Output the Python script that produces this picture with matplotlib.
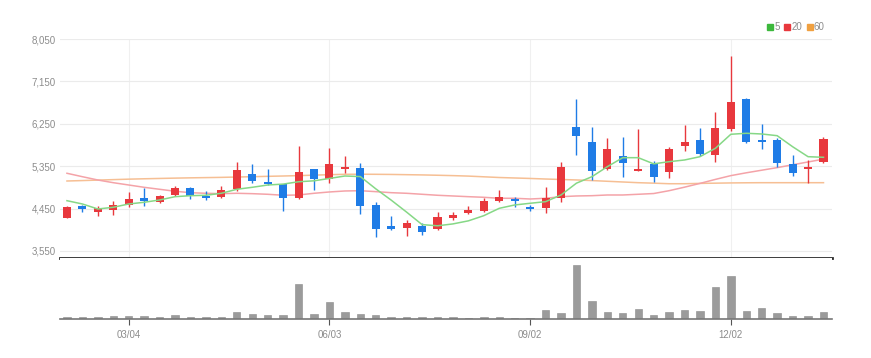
import pandas as pd
import numpy as np
import matplotlib
matplotlib.use('Agg')
import matplotlib.pyplot as plt
from matplotlib.lines import Line2D

# weekly candles, 2024-02-05 .. 2025-01-13
dates = pd.date_range('2024-02-05', periods=50, freq='W-MON')

opens = [4257, 4499, 4384, 4420, 4520, 4669, 4597, 4739, 4881, 4724,
         4690, 4860, 5185, 5015, 4966, 4669, 5284, 5079, 5284, 5306,
         4527, 4074, 4045, 4081, 4011, 4251, 4363, 4406, 4618, 4654,
         4478, 4456, 4669, 6189, 5870, 5291, 5573, 5255, 5397, 5234,
         5779, 5907, 5588, 6140, 6777, 5907, 5907, 5391, 5284, 5446]
highs = [4495, 4533, 4505, 4605, 4803, 4881, 4739, 4936, 4902, 4824,
         4930, 5433, 5397, 5284, 4980, 5779, 5290, 5730, 5567, 5425,
         4597, 4293, 4208, 4138, 4384, 4384, 4505, 4669, 4845, 4690,
         4527, 4902, 5446, 6771, 6176, 5943, 5977, 6134, 5467, 5764,
         6225, 6155, 6507, 7690, 6790, 6246, 5943, 5588, 5482, 5964]
lows = [4255, 4384, 4299, 4314, 4478, 4505, 4575, 4718, 4654, 4633,
        4669, 4830, 4987, 4951, 4406, 4660, 4845, 4987, 5200, 4335,
        3854, 3996, 3868, 3890, 3996, 4208, 4335, 4384, 4597, 4478,
        4406, 4350, 4597, 5588, 5057, 5270, 5127, 5250, 5021, 5106,
        5673, 5573, 5446, 6104, 5850, 5716, 5340, 5149, 4987, 5412]
closes = [4490, 4442, 4469, 4520, 4660, 4605, 4718, 4881, 4724, 4669,
          4845, 5270, 5042, 4966, 4669, 5234, 5072, 5397, 5327, 4505,
          4017, 4011, 4138, 3960, 4265, 4314, 4420, 4612, 4690, 4612,
          4435, 4669, 5327, 5998, 5248, 5716, 5425, 5297, 5127, 5716,
          5858, 5603, 6155, 6720, 5858, 5858, 5412, 5200, 5340, 5928]

ma5 = [4618, 4548, 4442, 4478, 4548, 4584, 4633, 4703, 4724, 4733,
       4775, 4860, 4902, 4951, 4970, 5020, 5040, 5090, 5142, 5130,
       4870, 4630, 4375, 4110, 4085, 4125, 4190, 4300, 4456, 4527,
       4563, 4597, 4739, 4990, 5127, 5340, 5531, 5531, 5400, 5446,
       5482, 5552, 5730, 6028, 6049, 6034, 5998, 5764, 5552, 5539]
ma20 = [5200, 5127, 5057, 5000, 4951, 4902, 4860, 4818, 4788, 4775,
        4767, 4775, 4767, 4754, 4733, 4739, 4775, 4803, 4824, 4830,
        4810, 4788, 4775, 4754, 4733, 4718, 4703, 4690, 4669, 4669,
        4654, 4669, 4703, 4718, 4724, 4739, 4739, 4754, 4770, 4830,
        4905, 4985, 5070, 5150, 5210, 5265, 5320, 5380, 5440, 5500]
ma60 = [5036, 5045, 5055, 5065, 5075, 5083, 5090, 5097, 5103, 5108,
        5113, 5120, 5127, 5135, 5142, 5150, 5160, 5170, 5178, 5180,
        5178, 5175, 5170, 5165, 5158, 5150, 5140, 5125, 5110, 5100,
        5090, 5078, 5068, 5058, 5045, 5030, 5015, 5000, 4990, 4978,
        4978, 4985, 4990, 4995, 4998, 5000, 5000, 5000, 5000, 5000]

# volume (thousand shares)
volume = [40, 40, 40, 70, 70, 70, 40, 90, 40, 40,
          40, 200, 130, 90, 90, 1030, 130, 500, 180, 130,
          90, 40, 40, 40, 40, 50, 30, 50, 50, 30,
          30, 250, 150, 1580, 510, 190, 160, 290, 110, 190,
          250, 220, 930, 1280, 220, 310, 160, 60, 60, 190]

tick_labels = ['03/04', '06/03', '09/02', '12/02']

up_color = '#e8383d'
down_color = '#1f7ce6'
gray = '#8c8c8c'
font = ['Liberation Sans', 'DejaVu Sans']

fig = plt.figure(figsize=(8.71, 3.58), dpi=100)
ax = fig.add_axes([0.0689, 0.2793, 0.8863, 0.6117])
axv = fig.add_axes([0.0689, 0.1103, 0.8863, 0.169], sharex=ax)

x = np.arange(len(dates))
o = np.array(opens)
c = np.array(closes)
colors = [up_color if cc >= oo else down_color for oo, cc in zip(o, c)]

# candles
ax.vlines(x, lows, highs, colors=colors, linewidth=1, zorder=3)
body_bottom = np.minimum(o, c)
body_height = np.maximum(np.abs(c - o), 30)
ax.bar(x, body_height, bottom=body_bottom, width=0.52, color=colors, zorder=4)

# moving averages
ax.plot(x, ma60, color='#f6bf94', linewidth=1.1, zorder=2)
ax.plot(x, ma20, color='#f4a3a8', linewidth=1.1, zorder=2)
ax.plot(x, ma5, color='#86d886', linewidth=1.1, zorder=5)

ax.set_xlim(-0.45, 49.55)
ax.set_ylim(3401, 8050)
yt = [3550, 4450, 5350, 6250, 7150, 8050]
ax.set_yticks(yt)
ax.set_yticklabels([f'{v:,}' for v in yt], color=gray, fontsize=7, family=font)
ax.tick_params(axis='y', length=0, pad=3)
ax.tick_params(axis='x', length=0, labelbottom=False)
ax.grid(axis='y', color='#ebebeb', linewidth=0.8)
ax.grid(axis='x', color='#f0f0f0', linewidth=0.8)
ax.set_axisbelow(True)
for s in ['top', 'left', 'right']:
    ax.spines[s].set_visible(False)
ax.spines['bottom'].set_color('#2b2b2b')
ax.spines['bottom'].set_linewidth(2)

tick_pos = [i for i, d in enumerate(dates) if d.strftime('%m/%d') in tick_labels]
ax.set_xticks(tick_pos)

# volume
axv.bar(x, volume, width=0.48, color='#9b9b9b', edgecolor='#8a8a8a', linewidth=0.4)
axv.set_ylim(0, max(volume) * 1.14)
axv.set_yticks([])
for s in ['top', 'left', 'right']:
    axv.spines[s].set_visible(False)
axv.spines['bottom'].set_color('#777777')
axv.spines['bottom'].set_linewidth(1.2)
axv.set_xticks(tick_pos)
axv.set_xticklabels(tick_labels, color=gray, fontsize=7, family=font)
axv.tick_params(axis='x', length=4, color='#555555', pad=4)

handles = [Line2D([], [], marker='s', ls='', color=col, markersize=4)
           for col in ['#3cb83c', '#e8383d', '#f0a040']]
fig.legend(handles, ['5', '20', '60'], ncol=3, loc='upper right',
           bbox_to_anchor=(0.957, 0.962), frameon=False, handletextpad=0.0,
           columnspacing=0.3, handlelength=0.9,
           prop={'family': font, 'size': 7}, labelcolor=gray)

plt.savefig('out.png', dpi=100)
